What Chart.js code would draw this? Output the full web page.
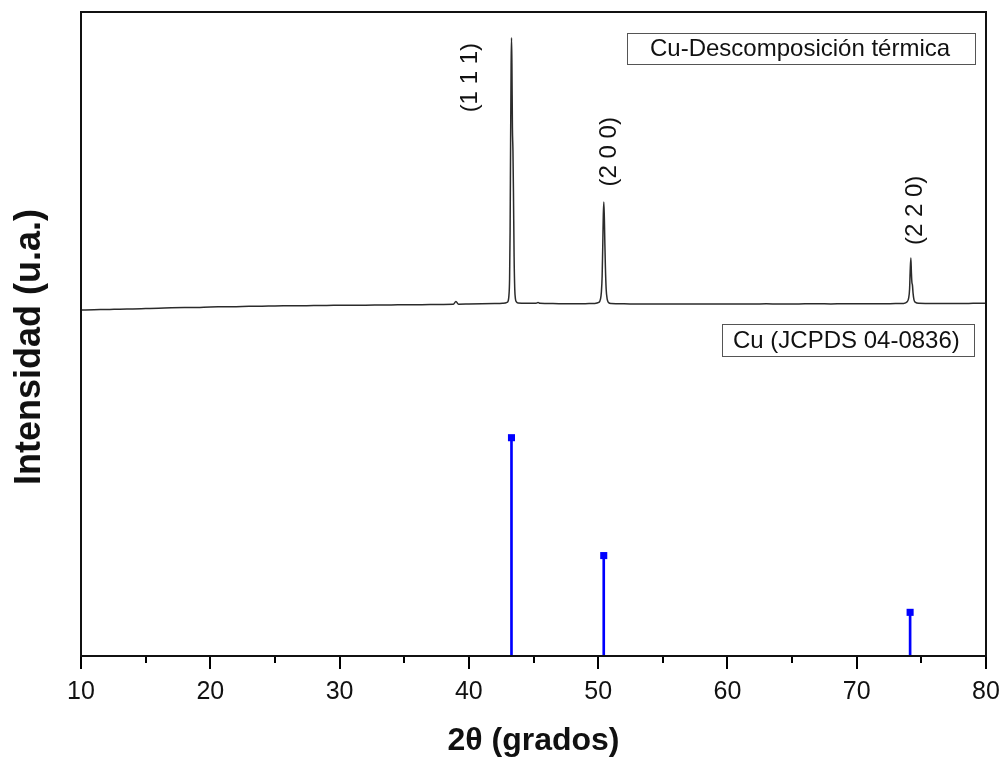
<!DOCTYPE html>
<html>
<head>
<meta charset="utf-8">
<title>DRX Cu</title>
<script src="https://cdn.jsdelivr.net/npm/chart.js@4.4.1/dist/chart.umd.min.js"></script>
<style>
  html, body { margin: 0; padding: 0; background: #ffffff; }
  #wrap { width: 1003px; height: 760px; }
</style>
</head>
<body>
<div id="wrap"><canvas id="c" width="1003" height="760"></canvas></div>
<script>
// Measured pattern: 2θ (degrees) and intensity (arbitrary units)
const xrdTheta = [
  10.0, 11.0, 12.0, 13.0, 14.0, 15.0, 16.0, 17.0, 18.0, 19.0,
  20.0, 21.0, 22.0, 23.0, 24.0, 25.0, 26.0, 27.0, 28.0, 29.0,
  30.0, 31.0, 32.0, 33.0, 34.0, 35.0, 36.0, 37.0, 38.0, 38.8,
  39.0, 39.2, 40.0, 41.0, 42.0, 42.6, 42.95, 43.05, 43.10, 43.15,
  43.19, 43.23, 43.27, 43.30, 43.33, 43.37, 43.41, 43.45, 43.50, 43.55,
  43.60, 43.68, 43.80, 44.5, 45.2, 45.35, 45.5, 46.5, 47.5, 48.5,
  49.3, 49.7, 50.05, 50.18, 50.25, 50.31, 50.36, 50.40, 50.44, 50.48,
  50.52, 50.56, 50.62, 50.70, 50.80, 51.0, 52.0, 53.0, 54.0, 55.0,
  56.0, 57.0, 58.0, 59.0, 60.0, 61.0, 62.0, 63.0, 64.0, 65.0,
  66.0, 67.0, 68.0, 69.0, 70.0, 71.0, 72.0, 73.0, 73.6, 73.9,
  74.02, 74.09, 74.14, 74.19, 74.23, 74.27, 74.31, 74.36, 74.43, 74.55,
  74.8, 76.0, 77.0, 78.0, 79.0, 80.0
];
const xrdIntensity = [
  53.72, 53.78, 53.80, 53.86, 53.90, 53.95, 54.00, 54.06, 54.10, 54.13,
  54.20, 54.22, 54.25, 54.30, 54.32, 54.36, 54.38, 54.40, 54.41, 54.44,
  54.45, 54.47, 54.48, 54.50, 54.52, 54.53, 54.55, 54.57, 54.60, 54.62,
  55.05, 54.63, 54.65, 54.68, 54.72, 54.76, 54.90, 55.20, 56.00, 58.50,
  66.0, 80.0, 92.0, 96.0, 92.0, 82.0, 78.5, 72.0, 62.0, 57.0,
  55.5, 55.0, 54.82, 54.78, 54.78, 54.90, 54.76, 54.72, 54.70, 54.70,
  54.72, 54.74, 54.90, 55.40, 56.5, 59.0, 64.0, 68.5, 70.5, 68.0,
  64.0, 60.5, 57.0, 55.4, 54.9, 54.72, 54.68, 54.66, 54.66, 54.64,
  54.65, 54.67, 54.66, 54.64, 54.65, 54.67, 54.66, 54.68, 54.66, 54.67,
  54.68, 54.70, 54.67, 54.69, 54.68, 54.70, 54.70, 54.72, 54.75, 55.0,
  55.6, 57.0, 60.0, 61.8, 59.5, 58.0, 57.6, 56.3, 55.3, 54.9,
  54.76, 54.73, 54.75, 54.74, 54.76, 54.78
];

// Reference card Cu (JCPDS 04-0836): positions and relative intensities
const refTheta = [43.297, 50.433, 74.130];
const refIntensity = [100, 46, 20];

// Miller indices of the reflections
const hklLabels = ['(1 1 1)', '(2 0 0)', '(2 2 0)'];

// Axis ticks
const xMin = 10, xMax = 80, xMajorStep = 10, xMinorStep = 5;

const seriesLabels = ['Cu-Descomposición térmica', 'Cu (JCPDS 04-0836)'];
const xTitle = '2θ (grados)';
const yTitle = 'Intensidad (u.a.)';

const FONT = '"Liberation Sans", Arial, Helvetica, sans-serif';

const xrdPoints = xrdTheta.map((t, i) => ({ x: t, y: xrdIntensity[i] }));
const refPoints = refTheta.map((t, i) => ({ x: t, y: refIntensity[i] }));

// Placement of the Miller index labels, in data units of the x / y axes
const hklPlacement = [
  { x: 40.1, y: 89.8 },
  { x: 50.9, y: 78.3 },
  { x: 74.5, y: 69.2 }
];

const decorations = {
  id: 'decorations',
  afterDraw(chart) {
    const { ctx, chartArea: a, scales } = chart;
    const xs = scales.x, ys = scales.y;
    ctx.save();

    // minor ticks on the 2θ axis
    ctx.strokeStyle = '#000';
    ctx.lineWidth = 2;
    for (let v = xMin + xMinorStep; v < xMax; v += xMajorStep) {
      const px = Math.round(xs.getPixelForValue(v));
      ctx.beginPath();
      ctx.moveTo(px, a.bottom);
      ctx.lineTo(px, a.bottom + 7);
      ctx.stroke();
    }

    // frame around the plot
    ctx.lineWidth = 2;
    ctx.strokeStyle = '#111';
    ctx.strokeRect(a.left, a.top, a.right - a.left, a.bottom - a.top);

    // vertical axis title
    ctx.fillStyle = '#111';
    ctx.save();
    ctx.translate(30, 347);
    ctx.rotate(-Math.PI / 2);
    ctx.font = 'bold 36px ' + FONT;
    ctx.textAlign = 'center';
    ctx.textBaseline = 'middle';
    ctx.fillText(yTitle, 0, 0);
    ctx.restore();

    // Miller index labels, written vertically
    ctx.font = '24px ' + FONT;
    ctx.textAlign = 'center';
    ctx.textBaseline = 'middle';
    hklLabels.forEach((lab, i) => {
      const px = xs.getPixelForValue(hklPlacement[i].x);
      const py = ys.getPixelForValue(hklPlacement[i].y);
      ctx.save();
      ctx.translate(px, py);
      ctx.rotate(-Math.PI / 2);
      ctx.fillText(lab, 0, 0);
      ctx.restore();
    });

    // series captions in boxes
    const boxes = [
      { x: a.right - 359, y: a.top + 21, w: 348, h: 31, tx: a.right - 336, text: seriesLabels[0] },
      { x: a.right - 264, y: a.top + 312, w: 252, h: 32, tx: a.right - 253, text: seriesLabels[1] }
    ];
    ctx.textAlign = 'left';
    boxes.forEach(b => {
      ctx.lineWidth = 1;
      ctx.strokeStyle = '#555';
      ctx.strokeRect(b.x + 0.5, b.y + 0.5, b.w, b.h);
      ctx.fillStyle = '#111';
      ctx.fillText(b.text, b.tx, b.y + b.h / 2 + 1);
    });

    ctx.restore();
  }
};

new Chart(document.getElementById('c'), {
  type: 'line',
  data: {
    datasets: [
      {
        type: 'line',
        label: seriesLabels[0],
        data: xrdPoints,
        borderColor: '#2b2b2b',
        borderWidth: 1.5,
        pointRadius: 0,
        cubicInterpolationMode: 'monotone',
        yAxisID: 'y',
        order: 2
      },
      {
        type: 'bar',
        label: seriesLabels[1],
        data: refPoints,
        backgroundColor: '#0000ff',
        borderWidth: 0,
        barThickness: 2,
        yAxisID: 'yRef',
        order: 1
      },
      {
        type: 'scatter',
        label: seriesLabels[1] + ' marcas',
        data: refPoints,
        pointStyle: 'rect',
        pointRadius: 5,
        backgroundColor: '#0000ff',
        borderColor: '#0000ff',
        borderWidth: 0,
        yAxisID: 'yRef',
        order: 0
      }
    ]
  },
  options: {
    responsive: false,
    animation: false,
    events: [],
    layout: { padding: { left: 0, right: 17, top: 12, bottom: 0 } },
    plugins: {
      legend: { display: false },
      tooltip: { enabled: false }
    },
    scales: {
      x: {
        type: 'linear',
        position: 'bottom',
        min: xMin,
        max: xMax,
        offset: false,
        grid: {
          display: true,
          offset: false,
          drawOnChartArea: false,
          drawTicks: true,
          tickLength: 13,
          color: '#000',
          lineWidth: 2
        },
        border: { display: true, color: '#111', width: 2 },
        ticks: {
          stepSize: xMajorStep,
          color: '#111',
          padding: 8,
          maxRotation: 0,
          font: { family: FONT, size: 25 }
        },
        title: {
          display: true,
          text: xTitle,
          color: '#111',
          font: { family: FONT, size: 32, weight: 'bold', lineHeight: 1.2 },
          padding: { top: 0, bottom: 0 }
        },
        afterFit(scale) {
          scale.height = 104;
          scale.paddingLeft = 0;
          scale.paddingRight = 0;
        }
      },
      y: {
        position: 'left',
        min: 0,
        max: 100,
        grid: { display: false },
        border: { display: true, color: '#111', width: 2 },
        ticks: { display: false },
        title: { display: false },
        afterFit(scale) { scale.width = 81; }
      },
      yRef: {
        display: false,
        min: 0,
        max: 295
      }
    }
  },
  plugins: [decorations]
});
</script>
</body>
</html>
